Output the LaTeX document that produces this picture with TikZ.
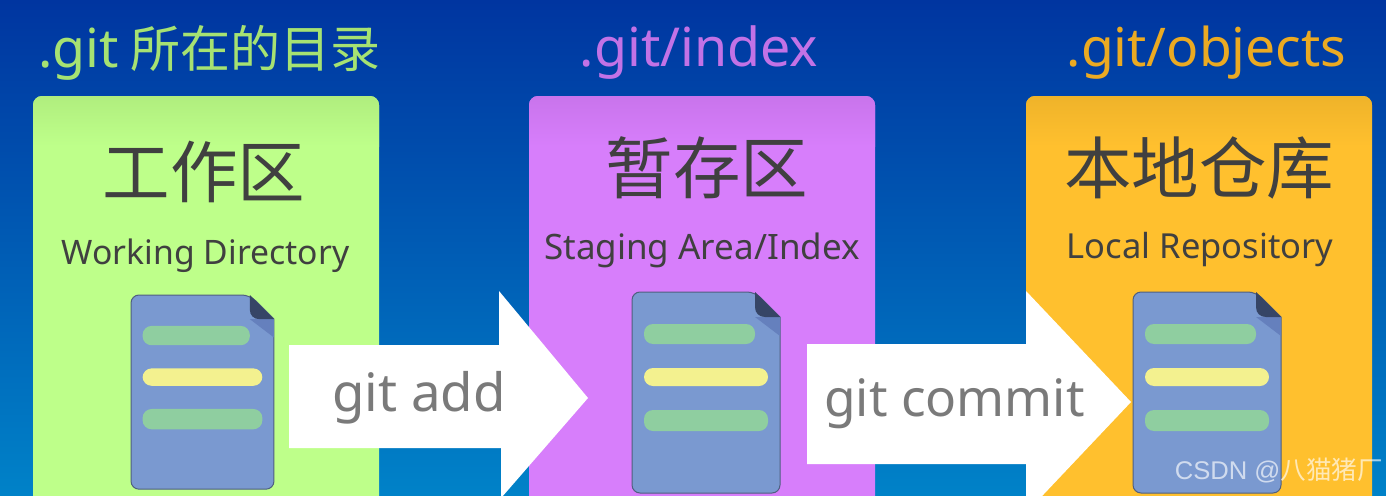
\documentclass[tikz,border=0pt]{standalone}
\usepackage{fontspec}
\setmainfont{Noto Sans}
\newfontfamily\cjk{Noto Sans CJK SC}
\setsansfont{Liberation Sans}
\usetikzlibrary{positioning}
\definecolor{bgtop}{HTML}{0035A0}
\definecolor{bgbottom}{HTML}{0082C8}
\definecolor{greenbox}{HTML}{BEFF8A}
\definecolor{greentop}{HTML}{B0EE7E}
\definecolor{purplebox}{HTML}{D77EFB}
\definecolor{purpletop}{HTML}{C974EC}
\definecolor{orangebox}{HTML}{FFC02E}
\definecolor{orangetop}{HTML}{EFB32A}
\definecolor{greenlabel}{HTML}{A6E272}
\definecolor{purplelabel}{HTML}{C272E6}
\definecolor{orangelabel}{HTML}{EBAA22}
\definecolor{inktext}{HTML}{404040}
\definecolor{docblue}{HTML}{7A99D0}
\definecolor{docedge}{HTML}{4F5F80}
\definecolor{docfold}{HTML}{364566}
\definecolor{docshade}{HTML}{6580BD}
\definecolor{bargreen}{HTML}{8FCEA0}
\definecolor{baryellow}{HTML}{F3F18F}
\tikzset{
  toplabel/.style={font=\fontsize{#1}{54}\selectfont, inner sep=0pt},
  titlelabel/.style={font=\cjk\fontsize{67.5}{67.5}\selectfont, text=inktext, inner sep=0pt},
  sublabel/.style={font=\fontsize{#1}{34}\selectfont, text=inktext, inner sep=0pt},
  cmdlabel/.style={font=\fontsize{#1}{52}\selectfont, text=black!52, inner sep=0pt},
}
\begin{document}
\begin{tikzpicture}[x=1pt, y=-1pt]
    \useasboundingbox (0,0) rectangle (1386,495);
    \clip (0,0) rectangle (1386,495);
    \shade[top color=bgtop, bottom color=bgbottom] (0,0) rectangle (1386,495);

    % boxes
    \foreach \boxx/\boxy/\boxc/\boxt in {33/96/greenbox/greentop, 529/96/purplebox/purpletop, 1026/96/orangebox/orangetop} {
        \fill[\boxc, rounded corners=9pt] (\boxx, \boxy) rectangle (\boxx+346, 540);
        \begin{scope}
            \clip[rounded corners=9pt] (\boxx, \boxy) rectangle (\boxx+346, 540);
            \shade[top color=\boxt, bottom color=\boxc] (\boxx, \boxy) rectangle (\boxx+346, \boxy+50);
        \end{scope}
    }

    \node[toplabel=53.7, text=greenlabel, anchor=west] (workpath) at (38, 53) {.git\hspace{12pt}{\cjk\fontsize{50}{51}\selectfont 所在的目录}};
    \node[toplabel=53.7, text=purplelabel] (indexpath) at (699, 53) {.git/index};
    \node[toplabel=53.4, text=orangelabel] (objectspath) at (1206.5, 53) {.git/objects};

    \node[titlelabel] (worktitle) at (204, 172) {工作区};
    \node[titlelabel] (indextitle) at (707, 168) {暂存区};
    \node[titlelabel] (repotitle) at (1199, 168) {本地仓库};

    \node[sublabel=33.7] (worksub) at (205.5, 256) {Working Directory};
    \node[sublabel=35] (indexsub) at (702, 250) {Staging Area/Index};
    \node[sublabel=34.5] (reposub) at (1200, 250) {Local Repository};

    % documents
    \foreach \docx/\docy/\docs in {131/295/0.966, 632/292/1, 1133/292/1} {
        \begin{scope}[shift={(\docx, \docy)}, scale=\docs]
            \draw[fill=docblue, draw=docedge, line width=1pt, rounded corners=8pt]
                (0,0) -- (123,0) [sharp corners] -- (148,25) [rounded corners=8pt] -- (148,201) -- (0,201) -- cycle;
            \fill[docshade] (123,25) -- (148,25) -- (148,44) -- cycle;
            \fill[docfold] (123,0) -- (148,25) -- (133,25) .. controls (127,25) and (123,21) .. (123,15) -- cycle;
            \fill[bargreen, rounded corners=9pt] (12,32) rectangle (123,52);
            \fill[baryellow, rounded corners=9pt] (12,76) rectangle (136,94);
            \fill[bargreen, rounded corners=9pt] (12,118) rectangle (136,139);
        \end{scope}
    }

    % arrows
    \fill[white] (289,345) -- (499,345) -- (499,291) -- (588,398) -- (495,505) -- (501,505) -- (501,448) -- (289,448) -- cycle;
    \fill[white] (807,344) -- (1026,344) -- (1026,291) -- (1131,402) -- (1026,513) -- (1026,464) -- (807,464) -- cycle;
    \node[cmdlabel=52.8] (addlabel) at (419, 398) {git add};
    \node[cmdlabel=51.4] (commitlabel) at (954.5, 404) {git commit};

    \node[font=\sffamily\fontsize{25.6}{26}\selectfont, text=white, opacity=0.65, anchor=east, inner sep=0pt] (mark) at (1383, 471) {CSDN @{\cjk 八猫猪厂}};
\end{tikzpicture}
\end{document}
